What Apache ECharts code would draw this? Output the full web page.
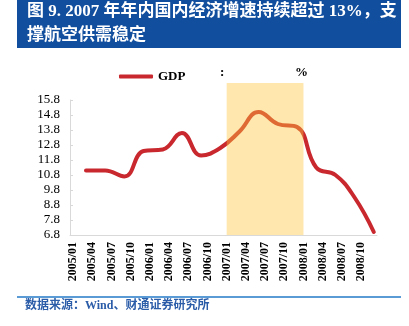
<!DOCTYPE html>
<html>
<head>
<meta charset="utf-8">
<script src="https://cdn.jsdelivr.net/npm/echarts@6/dist/echarts.min.js"></script>
<style>
  html, body { margin: 0; padding: 0; background: #fff; }
  #chart { width: 409px; height: 326px; }
</style>
</head>
<body>
<div id="chart"></div>
<script>
// Quarterly GDP growth (%), placed on a monthly category axis
const years = [2005, 2006, 2007, 2008];
const quarterMonths = ['2005/03', '2005/06', '2005/09', '2005/12',
                       '2006/03', '2006/06', '2006/09', '2006/12',
                       '2007/03', '2007/06', '2007/09', '2007/12',
                       '2008/03', '2008/06', '2008/09', '2008/12'];
const gdpGrowth = [11.1, 11.1, 10.7, 12.4,
                   12.5, 13.6, 12.1, 12.6,
                   13.7, 15.0, 14.2, 14.0,
                   11.3, 10.8, 9.3, 7.0];
const highlightRange = ['2007/01', '2008/01'];
const titleLines = ['图 9. 2007 年年内国内经济增速持续超过 13%，支', '撑航空供需稳定'];
const sourceText = '数据来源：Wind、财通证券研究所';

const months = [];
years.forEach(y => {
  for (let m = 1; m <= 12; m++) months.push(y + '/' + String(m).padStart(2, '0'));
});
const gdpData = quarterMonths.map((m, i) => [m, gdpGrowth[i]]);

const serif = "'Liberation Serif', 'Times New Roman', 'Noto Sans CJK SC', serif";
const chart = echarts.init(document.getElementById('chart'), null, { renderer: 'canvas' });

chart.setOption({
  animation: false,
  backgroundColor: '#ffffff',
  grid: [
    { left: 70, right: 32, top: 100, bottom: 91 },
    { left: 70, right: 32, top: 83, bottom: 91 }
  ],
  legend: {
    data: ['GDP'],
    left: 114,
    top: 65,
    itemWidth: 34,
    itemHeight: 4,
    itemGap: 3,
    icon: 'roundRect',
    textStyle: { fontFamily: serif, fontSize: 13, fontWeight: 'bold', color: '#000' }
  },
  xAxis: [
    {
      type: 'category',
      gridIndex: 0,
      data: months,
      boundaryGap: true,
      axisLine: { show: true, lineStyle: { color: '#d9d9d9', width: 1 } },
      axisTick: { show: false },
      axisLabel: {
        interval: 2,
        rotate: 90,
        margin: 7,
        fontFamily: serif,
        fontSize: 12,
        fontWeight: 'bold',
        color: '#000'
      },
      splitLine: { show: false }
    },
    {
      type: 'category',
      gridIndex: 1,
      data: months,
      boundaryGap: true,
      show: false
    }
  ],
  yAxis: [
    {
      type: 'value',
      gridIndex: 0,
      min: 6.8,
      max: 15.8,
      interval: 1,
      axisLine: { show: true, lineStyle: { color: '#d9d9d9', width: 1 } },
      axisTick: { show: true, inside: true, length: 3, lineStyle: { color: '#d9d9d9' } },
      axisLabel: {
        margin: 10,
        fontFamily: serif,
        fontSize: 13,
        color: '#000',
        formatter: v => v.toFixed(1)
      },
      splitLine: { show: false }
    },
    {
      type: 'value',
      gridIndex: 1,
      min: 0,
      max: 1,
      show: false
    }
  ],
  series: [
    {
      name: 'GDP',
      type: 'line',
      xAxisIndex: 0,
      yAxisIndex: 0,
      data: gdpData,
      smooth: 0.45,
      symbol: 'none',
      z: 2,
      lineStyle: { color: '#C8282E', width: 4, cap: 'round', join: 'round' },
      itemStyle: { color: '#C8282E' }
    },
    {
      name: 'highlight',
      type: 'line',
      xAxisIndex: 1,
      yAxisIndex: 1,
      data: months.map(() => null),
      symbol: 'none',
      silent: true,
      z: 5,
      markArea: {
        silent: true,
        z: 10,
        itemStyle: { color: 'rgba(255,198,60,0.42)' },
        data: [[{ xAxis: highlightRange[0] }, { xAxis: highlightRange[1] }]]
      }
    }
  ],
  graphic: [
    {
      type: 'rect',
      shape: { x: 17, y: 0, width: 384, height: 48 },
      style: { fill: '#114E9E' },
      silent: true
    },
    {
      type: 'text',
      left: 27,
      top: 3,
      style: {
        text: titleLines[0],
        fill: '#ffffff',
        font: "bold 17px 'Liberation Serif', 'Noto Sans CJK SC', serif"
      }
    },
    {
      type: 'text',
      left: 27,
      top: 27,
      style: {
        text: titleLines[1],
        fill: '#ffffff',
        font: "bold 17px 'Liberation Serif', 'Noto Sans CJK SC', serif"
      }
    },
    {
      type: 'text',
      left: 220,
      top: 66,
      style: { text: ':', fill: '#000', font: "bold 13px 'Liberation Serif', serif" }
    },
    {
      type: 'text',
      left: 295,
      top: 66,
      style: { text: '%', fill: '#000', font: "bold 13px 'Liberation Serif', serif" }
    },
    {
      type: 'line',
      shape: { x1: 17, y1: 297, x2: 401, y2: 297 },
      style: { stroke: '#5B9BD5', lineWidth: 2 },
      silent: true
    },
    {
      type: 'text',
      left: 25,
      top: 300,
      style: {
        text: sourceText,
        fill: '#2B5CA8',
        font: "bold 12px 'Liberation Serif', 'Noto Sans CJK SC', serif"
      }
    }
  ]
});
</script>
</body>
</html>
